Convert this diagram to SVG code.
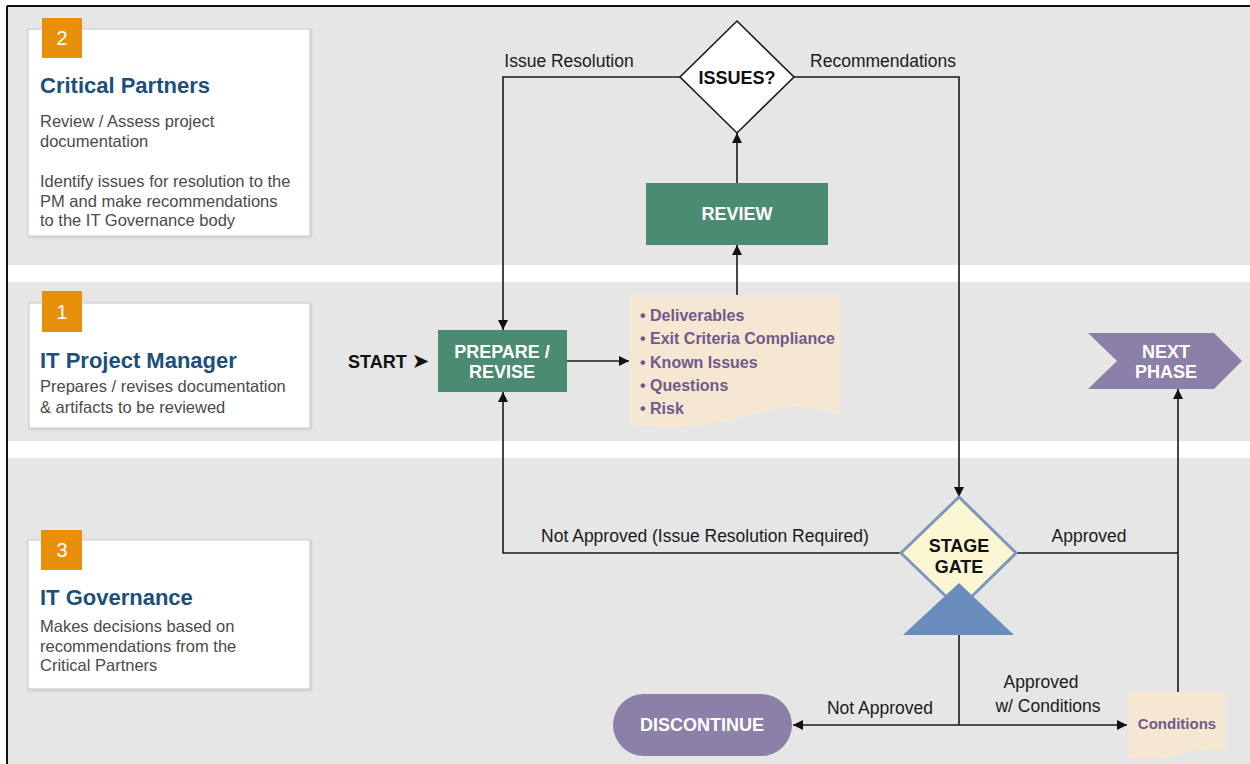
<svg xmlns="http://www.w3.org/2000/svg" width="1250" height="764" viewBox="0 0 1250 764">
<defs>
<style>
.band{fill:#e6e6e6}
.card{fill:#ffffff;stroke:#cfcfcf;stroke-width:1.2}
.num{fill:#e8900c}
.numt{font-family:"Liberation Sans",Arial,sans-serif;font-size:20px;fill:#ffffff;text-anchor:middle}
.title{font-family:"Liberation Sans",Arial,sans-serif;font-size:22px;font-weight:bold;fill:#1b4f7c}
.body{font-family:"Liberation Sans",Arial,sans-serif;font-size:16.5px;fill:#4a4a4a}
.lbl{font-family:"Liberation Sans",Arial,sans-serif;font-size:17.5px;fill:#1a1a1a}
.box{fill:#4b8b72}
.wt{font-family:"Liberation Sans",Arial,sans-serif;font-size:18px;font-weight:bold;fill:#ffffff;text-anchor:middle}
.bk{font-family:"Liberation Sans",Arial,sans-serif;font-size:18px;font-weight:bold;fill:#111111;text-anchor:middle}
.st{font-family:"Liberation Sans",Arial,sans-serif;font-size:18px;font-weight:bold;fill:#111111}
.purp{fill:#8b80a8}
.doc{fill:#f6e7d2}
.pt{font-family:"Liberation Sans",Arial,sans-serif;font-size:16px;font-weight:bold;fill:#6e5a8c}
.ct{font-family:"Liberation Sans",Arial,sans-serif;font-size:15px;font-weight:bold;fill:#6e5a8c;text-anchor:middle}
.conn{fill:none;stroke:#1a1a1a;stroke-width:1.6}
</style>
<marker id="arr" viewBox="0 0 10 10" refX="10" refY="5" markerWidth="10" markerHeight="10" markerUnits="userSpaceOnUse" orient="auto">
<path d="M0,0 L10,5 L0,10 Z" fill="#111111"/>
</marker>
<filter id="sh" x="-5%" y="-5%" width="110%" height="110%">
<feDropShadow dx="1" dy="1" stdDeviation="1" flood-color="#000000" flood-opacity="0.15"/>
</filter>
</defs>

<rect x="0" y="0" width="1250" height="764" fill="#ffffff"/>
<g id="bands">
<rect class="band" x="8" y="7" width="1242" height="258"/>
<rect class="band" x="8" y="282" width="1242" height="159"/>
<rect class="band" x="8" y="458" width="1242" height="306"/>
<line x1="7" y1="6" x2="1250" y2="6" stroke="#111" stroke-width="2"/>
<line x1="7" y1="6" x2="7" y2="764" stroke="#111" stroke-width="2"/>
</g>

<g id="lane-critical-partners">
<rect class="card" x="28" y="29" width="282" height="207" filter="url(#sh)"/>
<rect class="num" x="42" y="18" width="40" height="40"/>
<text class="numt" x="62" y="45">2</text>
<text class="title" x="40" y="93">Critical Partners</text>
<text class="body" x="40" y="127">Review / Assess project</text>
<text class="body" x="40" y="147">documentation</text>
<text class="body" x="40" y="187">Identify issues for resolution to the</text>
<text class="body" x="40" y="207">PM and make recommendations</text>
<text class="body" x="40" y="226">to the IT Governance body</text>
</g>

<g id="lane-it-project-manager">
<rect class="card" x="29" y="303" width="281" height="125" filter="url(#sh)"/>
<rect class="num" x="42" y="291" width="40" height="41"/>
<text class="numt" x="62" y="319">1</text>
<text class="title" x="40" y="368">IT Project Manager</text>
<text class="body" x="40" y="392">Prepares / revises documentation</text>
<text class="body" x="40" y="413">&amp; artifacts to be reviewed</text>
</g>

<g id="lane-it-governance">
<rect class="card" x="28" y="540" width="282" height="149" filter="url(#sh)"/>
<rect class="num" x="41" y="530" width="41" height="40"/>
<text class="numt" x="62" y="557">3</text>
<text class="title" x="40" y="605">IT Governance</text>
<text class="body" x="40" y="632">Makes decisions based on</text>
<text class="body" x="40" y="652">recommendations from the</text>
<text class="body" x="40" y="671">Critical Partners</text>
</g>

<g id="connectors">
<path class="conn" d="M680,77 H503 V330" marker-end="url(#arr)"/>
<path class="conn" d="M794,77 H959 V497" marker-end="url(#arr)"/>
<path class="conn" d="M737,183 V133" marker-end="url(#arr)"/>
<path class="conn" d="M737,296 V245" marker-end="url(#arr)"/>
<path class="conn" d="M567,361 H629" marker-end="url(#arr)"/>
<path class="conn" d="M901,553 H503 V392" marker-end="url(#arr)"/>
<path class="conn" d="M1016,553 H1178"/>
<path class="conn" d="M1178,692 V389" marker-end="url(#arr)"/>
<path class="conn" d="M959,635 V725"/>
<path class="conn" d="M959,725 H793" marker-end="url(#arr)"/>
<path class="conn" d="M959,725 H1127" marker-end="url(#arr)"/>
<text class="lbl" x="569" y="67" text-anchor="middle">Issue Resolution</text>
<text class="lbl" x="883" y="67" text-anchor="middle">Recommendations</text>
<text class="lbl" x="705" y="542" text-anchor="middle">Not Approved (Issue Resolution Required)</text>
<text class="lbl" x="1089" y="542" text-anchor="middle">Approved</text>
<text class="lbl" x="880" y="714" text-anchor="middle">Not Approved</text>
<text class="lbl" x="1041" y="688" text-anchor="middle">Approved</text>
<text class="lbl" x="1048" y="712" text-anchor="middle">w/ Conditions</text>
</g>

<g id="start">
<text class="st" x="348" y="368">START <tspan font-family="'DejaVu Sans',sans-serif" style="font-size:21px">➤</tspan></text>
</g>

<g id="prepare-revise">
<rect class="box" x="438" y="330" width="129" height="62"/>
<text class="wt" x="502" y="358">PREPARE /</text>
<text class="wt" x="502" y="378">REVISE</text>
</g>

<g id="deliverables">
<path class="doc" d="M629,295 H840 V414 C812,406 790,404 760,412 C725,422 690,432 629,425 Z"/>
<text class="pt" x="640" y="321">• Deliverables</text>
<text class="pt" x="640" y="344">• Exit Criteria Compliance</text>
<text class="pt" x="640" y="368">• Known Issues</text>
<text class="pt" x="640" y="391">• Questions</text>
<text class="pt" x="640" y="414">• Risk</text>
</g>

<g id="review">
<rect class="box" x="646" y="183" width="182" height="62"/>
<text class="wt" x="737" y="220">REVIEW</text>
</g>

<g id="issues">
<polygon points="737,21 794,77 737,133 680,77" fill="#ffffff" stroke="#1a1a1a" stroke-width="1.6"/>
<text class="bk" x="737" y="84">ISSUES?</text>
</g>

<g id="stage-gate">
<polygon points="959,497 1016,553 959,609 901,553" fill="#fdf6d3" stroke="#7d98bd" stroke-width="3"/>
<polygon points="959,583 1014,635 903,635" fill="#6b8dbe"/>
<text class="bk" x="959" y="552">STAGE</text>
<text class="bk" x="959" y="573">GATE</text>
</g>

<g id="next-phase">
<polygon class="purp" points="1088,333 1214,333 1242,361 1214,389 1088,389 1117,361"/>
<text class="wt" x="1166" y="358">NEXT</text>
<text class="wt" x="1166" y="378">PHASE</text>
</g>

<g id="discontinue">
<rect class="purp" x="613" y="694" width="179" height="62" rx="31" ry="31"/>
<text class="wt" x="702" y="731">DISCONTINUE</text>
</g>

<g id="conditions">
<path class="doc" d="M1128,692 H1225 V752 C1210,748 1195,749 1180,754 C1165,759 1145,760 1128,757 Z"/>
<text class="ct" x="1177" y="729">Conditions</text>
</g>
</svg>
